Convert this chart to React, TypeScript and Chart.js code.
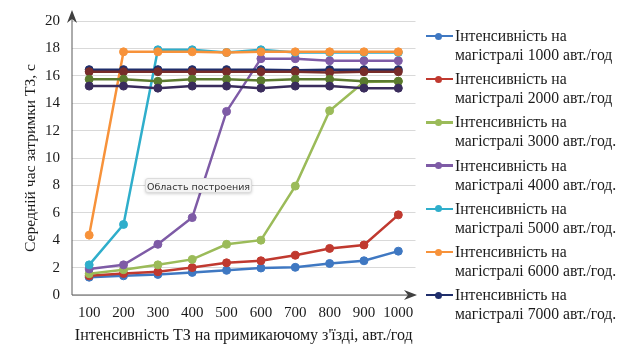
import React, { useEffect, useRef } from "react";
import { Chart, registerables } from "chart.js";

Chart.register(...registerables);

const categories = ["100", "200", "300", "400", "500", "600", "700", "800", "900", "1000"];

const s1000 = [1.3, 1.4, 1.5, 1.65, 1.8, 1.97, 2.02, 2.3, 2.5, 3.2];
const s2000 = [1.4, 1.57, 1.7, 2.0, 2.35, 2.5, 2.9, 3.4, 3.65, 5.85];
const s3000 = [1.55, 1.85, 2.2, 2.6, 3.7, 4.0, 7.95, 13.45, 15.55, 15.6];
const s4000 = [1.9, 2.2, 3.7, 5.65, 13.4, 17.25, 17.25, 17.1, 17.1, 17.1];
const s5000 = [2.2, 5.15, 17.9, 17.9, 17.7, 17.9, 17.7, 17.7, 17.7, 17.7];
const s6000 = [4.37, 17.75, 17.75, 17.75, 17.7, 17.75, 17.75, 17.75, 17.75, 17.75];
const s7000 = [16.45, 16.45, 16.45, 16.45, 16.45, 16.45, 16.4, 16.45, 16.45, 16.45];
const s8000 = [16.3, 16.3, 16.3, 16.3, 16.3, 16.3, 16.3, 16.25, 16.3, 16.3];
const s9000 = [15.75, 15.75, 15.6, 15.75, 15.75, 15.65, 15.75, 15.75, 15.6, 15.6];
const s10000 = [15.25, 15.25, 15.1, 15.25, 15.25, 15.1, 15.25, 15.25, 15.1, 15.1];

const seriesNames = [
  "Інтенсивність на магістралі 1000 авт./год",
  "Інтенсивність на магістралі 2000 авт./год",
  "Інтенсивність на магістралі 3000 авт./год.",
  "Інтенсивність на магістралі 4000 авт./год.",
  "Інтенсивність на магістралі 5000 авт./год.",
  "Інтенсивність на магістралі 6000 авт./год.",
  "Інтенсивність на магістралі 7000 авт./год.",
  "Інтенсивність на магістралі 8000 авт./год.",
  "Інтенсивність на магістралі 9000 авт./год.",
  "Інтенсивність на магістралі 10000 авт./год.",
];
const legendLine1 = "Інтенсивність на";
const legendLine2 = [
  "магістралі 1000 авт./год",
  "магістралі 2000 авт./год",
  "магістралі 3000 авт./год.",
  "магістралі 4000 авт./год.",
  "магістралі 5000 авт./год.",
  "магістралі 6000 авт./год.",
  "магістралі 7000 авт./год.",
];
const seriesValues = [s1000, s2000, s3000, s4000, s5000, s6000, s7000, s8000, s9000, s10000];
const colors = [
  "#3F78C2",
  "#C0392F",
  "#9BBB59",
  "#7E5BA6",
  "#2FAECB",
  "#F7923A",
  "#1F2E6B",
  "#772C2A",
  "#5A7A2E",
  "#3A2C5C",
];

const xTitle = "Інтенсивність ТЗ на примикаючому з'їзді, авт./год";
const yTitle = "Середній час затримки ТЗ, с";
const FONT = "'Liberation Serif', 'Times New Roman', serif";

const arrowPlugin = {
  id: "arrows",
  afterDraw(chart: any) {
    const { ctx, chartArea } = chart;
    const x0 = chartArea.left;
    const y0 = chartArea.bottom;
    ctx.save();
    ctx.strokeStyle = "#595959";
    ctx.fillStyle = "#404040";
    ctx.lineWidth = 1;
    // y axis arrow
    ctx.beginPath();
    ctx.moveTo(x0, y0);
    ctx.lineTo(x0, 14);
    ctx.stroke();
    ctx.beginPath();
    ctx.moveTo(x0, 10);
    ctx.lineTo(x0 - 5, 23);
    ctx.lineTo(x0, 19);
    ctx.lineTo(x0 + 5, 23);
    ctx.closePath();
    ctx.fill();
    // x axis arrow
    const tip = 417;
    ctx.beginPath();
    ctx.moveTo(x0, y0);
    ctx.lineTo(tip - 4, y0);
    ctx.stroke();
    ctx.beginPath();
    ctx.moveTo(tip, y0);
    ctx.lineTo(tip - 13, y0 - 5);
    ctx.lineTo(tip - 9, y0);
    ctx.lineTo(tip - 13, y0 + 5);
    ctx.closePath();
    ctx.fill();
    ctx.restore();
  },
};

export default function App() {
  const ref = useRef<HTMLCanvasElement>(null);

  useEffect(() => {
    if (!ref.current) return;
    const chart = new Chart(ref.current, {
      type: "line",
      data: {
        labels: categories,
        datasets: seriesValues.map((vals, i) => ({
          label: seriesNames[i],
          data: vals,
          borderColor: colors[i],
          backgroundColor: colors[i],
          pointBackgroundColor: colors[i],
          pointBorderColor: colors[i],
          pointRadius: 4,
          pointBorderWidth: 1,
          borderWidth: 2.5,
          tension: 0,
          order: seriesValues.length - i,
        })),
      },
      options: {
        animation: false,
        responsive: false,
        maintainAspectRatio: false,
        layout: { padding: { top: 10, right: 224.5, bottom: 0, left: 0 } },
        plugins: {
          legend: { display: false },
          tooltip: { enabled: false },
        },
        scales: {
          x: {
            type: "category",
            offset: true,
            grid: { display: false, drawTicks: false },
            border: { display: false },
            ticks: { color: "#1a1a1a", font: { family: FONT, size: 15 }, padding: 9, maxRotation: 0, autoSkip: false },
            title: { display: true, text: xTitle, color: "#1a1a1a", font: { family: FONT, size: 16 }, padding: { top: 0, bottom: 7 } },
            afterFit: (scale: any) => {
              scale.height = 57;
            },
          },
          y: {
            min: 0,
            max: 20,
            ticks: { stepSize: 2, color: "#1a1a1a", font: { family: FONT, size: 15 }, padding: 12 },
            grid: { color: "#d9d9d9", lineWidth: 1, drawTicks: false },
            border: { display: false },
            title: { display: true, text: yTitle, color: "#1a1a1a", font: { family: FONT, size: 15.6 }, padding: { top: 22, bottom: 0 } },
            afterFit: (scale: any) => {
              scale.width = 72;
            },
          },
        },
      },
      plugins: [arrowPlugin],
    });
    return () => chart.destroy();
  }, []);

  return (
    <div style={{ position: "fixed", left: 0, top: 0, width: 640, height: 352, background: "#fff" }}>
      <canvas ref={ref} width={640} height={352} style={{ position: "absolute", left: 0, top: 0, width: 640, height: 352 }} />
      {legendLine2.map((l2, i) => {
        const yc = 36 + i * 43.2;
        return (
          <div key={i}>
            <div style={{ position: "absolute", left: 426, top: yc - 1.25, width: 27, height: 2.5, background: colors[i] }} />
            <div
              style={{
                position: "absolute",
                left: 434.5,
                top: yc - 3.5,
                width: 7,
                height: 7,
                borderRadius: "50%",
                background: colors[i],
              }}
            />
            <div
              style={{
                position: "absolute",
                left: 455,
                top: yc - 10,
                fontFamily: FONT,
                fontSize: 15.7,
                lineHeight: "19px",
                color: "#1a1a1a",
                whiteSpace: "nowrap",
              }}
            >
              {legendLine1}
              <br />
              {l2}
            </div>
          </div>
        );
      })}
      <div
        style={{
          position: "absolute",
          left: 145,
          top: 178,
          width: 107,
          height: 15,
          background: "#f4f4f4",
          border: "1px solid #dcdcdc",
          borderRadius: 3,
          boxShadow: "0 1px 3px rgba(0,0,0,0.18)",
          fontFamily: "'DejaVu Sans', 'Noto Sans', sans-serif",
          fontSize: 9.5,
          lineHeight: "15px",
          color: "#333",
          textAlign: "center",
          boxSizing: "border-box" as const,
          whiteSpace: "nowrap",
        }}
      >
        Область построения
      </div>
    </div>
  );
}
